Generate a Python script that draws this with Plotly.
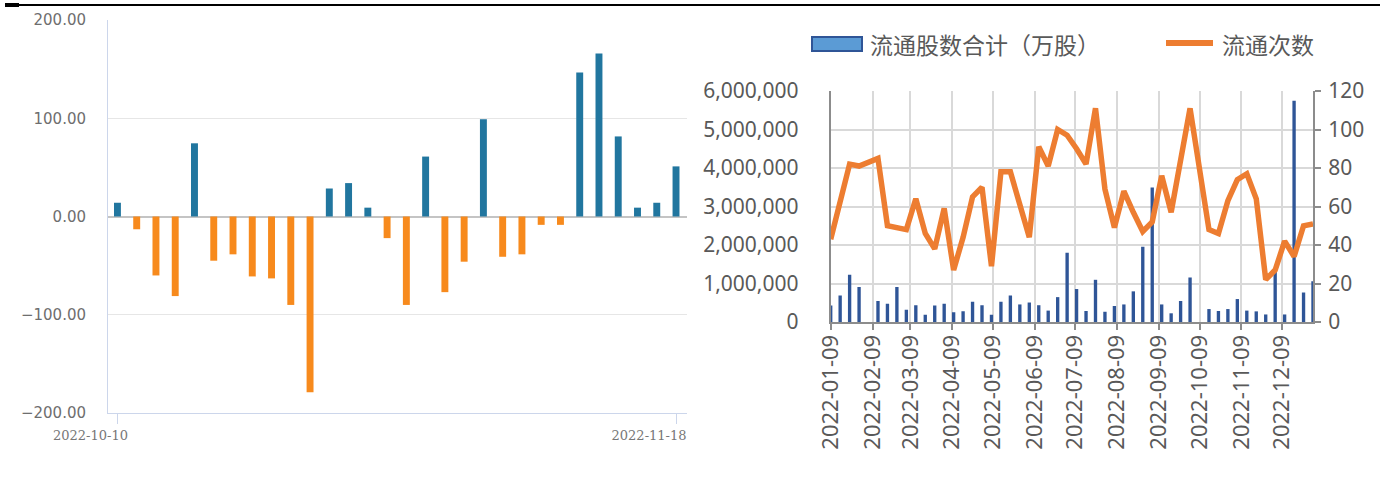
import plotly.graph_objects as go

W, H = 1390, 480

# ---- left panel: daily net values (2022-10-10 .. 2022-11-18) ----
trade_dates = [
    "2022-10-10", "2022-10-11", "2022-10-12", "2022-10-13", "2022-10-14",
    "2022-10-17", "2022-10-18", "2022-10-19", "2022-10-20", "2022-10-21",
    "2022-10-24", "2022-10-25", "2022-10-26", "2022-10-27", "2022-10-28",
    "2022-10-31", "2022-11-01", "2022-11-02", "2022-11-03", "2022-11-04",
    "2022-11-07", "2022-11-08", "2022-11-09", "2022-11-10", "2022-11-11",
    "2022-11-14", "2022-11-15", "2022-11-16", "2022-11-17", "2022-11-18",
]
net_values = [
    14, -13, -60, -81, 74.5, -45, -38.5, -61, -63, -90,
    -179, 28.5, 34, 9, -22, -90, 61, -77, -46, 99,
    -41, -38.5, -8.5, -8.5, 146.5, 166, 81.5, 9, 14, 51,
]

# ---- right panel: weekly totals 2022 (Spring Festival / National Day weeks absent) ----
week_dates = [
    "2022-01-09", "2022-01-16", "2022-01-23", "2022-01-30",
    "2022-02-13", "2022-02-20", "2022-02-27", "2022-03-06", "2022-03-13",
    "2022-03-20", "2022-03-27", "2022-04-03", "2022-04-10", "2022-04-17",
    "2022-04-24", "2022-05-01", "2022-05-08", "2022-05-15", "2022-05-22",
    "2022-05-29", "2022-06-05", "2022-06-12", "2022-06-19", "2022-06-26",
    "2022-07-03", "2022-07-10", "2022-07-17", "2022-07-24", "2022-07-31",
    "2022-08-07", "2022-08-14", "2022-08-21", "2022-08-28", "2022-09-04",
    "2022-09-11", "2022-09-18", "2022-09-25", "2022-10-02",
    "2022-10-16", "2022-10-23", "2022-10-30", "2022-11-06", "2022-11-13",
    "2022-11-20", "2022-11-27", "2022-12-04", "2022-12-11", "2022-12-18",
    "2022-12-25", "2023-01-01",
]
shares_wan = [
    400000, 660000, 1200000, 880000,
    520000, 450000, 880000, 290000, 410000,
    160000, 400000, 450000, 230000, 250000,
    500000, 410000, 160000, 500000, 660000,
    430000, 480000, 410000, 270000, 620000,
    1770000, 830000, 260000, 1070000, 240000,
    390000, 430000, 770000, 1930000, 3470000,
    430000, 200000, 520000, 1130000,
    310000, 260000, 310000, 570000, 270000,
    250000, 170000, 1290000, 170000, 5720000,
    740000, 1030000,
]
deal_counts = [
    43, 62, 82, 81,
    85, 50, 49, 48, 64,
    46, 38, 59, 27, 44,
    65, 70, 29, 78, 78,
    61, 44, 91, 81, 100,
    97, 90, 82, 111, 69,
    49, 68, 57, 47, 52,
    76, 57, 84, 111,
    48, 46, 63, 74, 77,
    64, 22, 27, 42, 34,
    50, 51,
]
month_ticks = [
    "2022-01-09", "2022-02-09", "2022-03-09", "2022-04-09", "2022-05-09", "2022-06-09",
    "2022-07-09", "2022-08-09", "2022-09-09", "2022-10-09", "2022-11-09", "2022-12-09",
]
bar_name = "流通股数合计（万股）"
line_name = "流通次数"


# screen pixel -> paper fraction (page margin is removed below, so the figure sits at 0,0)
def px_x(v):
    return v / W


def px_y(v):
    return 1 - v / H


BLUE = "#21769f"
ORANGE = "#f78a1d"
GREY_TXT = "#595959"

fig = go.Figure()

# left chart bars
fig.add_trace(go.Bar(
    x=trade_dates, y=net_values,
    marker=dict(color=[BLUE if v >= 0 else ORANGE for v in net_values], line_width=0),
    xaxis="x", yaxis="y", showlegend=False,
))

# right chart bars + line
fig.add_trace(go.Bar(
    x=week_dates, y=shares_wan, name=bar_name,
    width=86400000 * 1.0,
    marker=dict(color="#5b9bd5", line=dict(color="#2f5597", width=2)),
    xaxis="x2", yaxis="y2", showlegend=False,
))
fig.add_trace(go.Scatter(
    x=week_dates, y=deal_counts, name=line_name, mode="lines",
    line=dict(color="#ed7d31", width=5.5),
    xaxis="x2", yaxis="y3", showlegend=False,
))

left_font = dict(family="DejaVu Sans", size=15, color="#6e6e6e")
right_font = dict(family="Noto Sans, Noto Sans CJK SC", size=21, color=GREY_TXT)

fig.update_layout(
    width=W, height=H,
    margin=dict(l=0, r=0, t=0, b=0),
    paper_bgcolor="white", plot_bgcolor="white",
    bargap=0.64,
    xaxis=dict(
        domain=[px_x(108), px_x(687)], anchor="y", automargin=False,
        type="category", range=[-0.49, 29.57],
        tickvals=[trade_dates[0], trade_dates[-1]],
        ticktext=[trade_dates[0], trade_dates[-1]],
        tickangle=0, ticks="outside", ticklen=10, tickcolor="#ccd6eb",
        showline=True, linecolor="#ccd6eb", linewidth=1,
        showgrid=False,
        tickfont=dict(family="DejaVu Serif", size=13, color="#777777"),
        ticklabelshift=-27,
    ),
    yaxis=dict(
        domain=[px_y(413), px_y(20)], anchor="x", automargin=False,
        range=[-200, 200], tickvals=[-200, -100, 0, 100, 200], tickformat=".2f",
        showgrid=True, gridcolor="#e6e6e6", gridwidth=1,
        zeroline=True, zerolinecolor="#c4c4c4", zerolinewidth=2,
        showline=True, linecolor="#ccd6eb", linewidth=1,
        ticks="", ticklabelstandoff=18,
        tickfont=left_font,
    ),
    xaxis2=dict(
        domain=[px_x(830.7), px_x(1313)], anchor="y2", automargin=False,
        type="date", range=["2022-01-09", "2023-01-01"],
        tickvals=month_ticks, ticktext=month_ticks, tickangle=-90,
        ticks="outside", ticklen=6, tickcolor="#8c8c8c", tickwidth=2,
        showline=True, linecolor="#8c8c8c", linewidth=2,
        showgrid=True, gridcolor="#d9d9d9", gridwidth=2,
        tickfont=dict(family="Noto Sans", size=22, color=GREY_TXT),
        ticklabelstandoff=-4,
    ),
    yaxis2=dict(
        domain=[px_y(322), px_y(91)], anchor="x2", automargin=False,
        range=[0, 6000000], dtick=1000000, tickformat=",d",
        showgrid=True, gridcolor="#d9d9d9", gridwidth=2, zeroline=False,
        showline=True, linecolor="#8c8c8c", linewidth=2,
        ticks="", ticklabelstandoff=26,
        tickfont=right_font,
    ),
    yaxis3=dict(
        overlaying="y2", side="right", anchor="x2", automargin=False,
        range=[0, 120], dtick=20, showgrid=False, zeroline=False,
        showline=True, linecolor="#8c8c8c", linewidth=2,
        ticks="outside", ticklen=6, tickcolor="#8c8c8c", tickwidth=2,
        ticklabelstandoff=3,
        tickfont=right_font,
    ),
)

# top rule across the page
fig.add_shape(type="line", xref="paper", yref="paper",
              x0=px_x(5), x1=px_x(1380), y0=px_y(5), y1=px_y(5),
              line=dict(color="black", width=2))
fig.add_shape(type="line", xref="paper", yref="paper",
              x0=px_x(5), x1=px_x(19), y0=px_y(5), y1=px_y(5),
              line=dict(color="black", width=4))

# legend for the right chart, drawn by hand to get the Excel-style swatches
fig.add_shape(type="rect", xref="paper", yref="paper",
              x0=px_x(812), x1=px_x(862), y0=px_y(51), y1=px_y(37),
              fillcolor="#5b9bd5", line=dict(color="#2f5597", width=2))
fig.add_shape(type="line", xref="paper", yref="paper",
              x0=px_x(1166), x1=px_x(1213), y0=px_y(43), y1=px_y(43),
              line=dict(color="#ed7d31", width=6))
legend_font = dict(family="Noto Sans CJK SC", size=23, color=GREY_TXT)
fig.add_annotation(text=bar_name, xref="paper", yref="paper",
                   x=px_x(868), y=px_y(44), xanchor="left", yanchor="middle",
                   showarrow=False, font=legend_font)
fig.add_annotation(text=line_name, xref="paper", yref="paper",
                   x=px_x(1220), y=px_y(44), xanchor="left", yanchor="middle",
                   showarrow=False, font=legend_font)

fig.write_html("out.html", config={"displayModeBar": False},
               post_script="document.body.style.margin = '0';")
